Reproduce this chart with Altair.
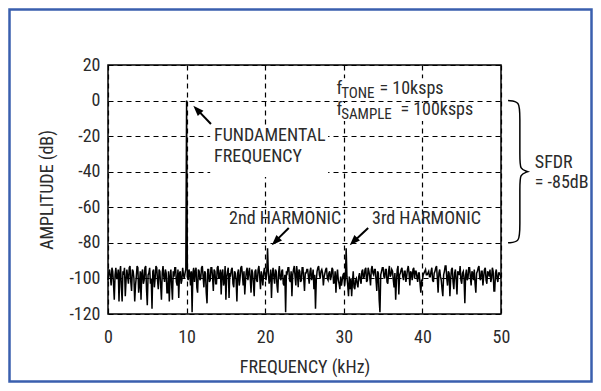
import altair as alt
import pandas as pd

# ---------------- data ----------------
freq_step_khz = 0.1
amplitude_db = [
    -101, -97, -95, -99, -104, -94, -96, -103, -112, -98,
    -94, -100, -100, -95, -113, -97, -93, -105, -113, -96,
    -98, -94, -110, -101, -95, -99, -103, -94, -93, -102,
    -107, -95, -96, -100, -113, -104, -99, -93, -94, -108,
    -104, -96, -112, -97, -95, -103, -101, -94, -93, -106,
    -115, -98, -97, -94, -103, -100, -117, -96, -95, -105,
    -100, -93, -94, -101, -106, -95, -96, -104, -112, -97,
    -93, -99, -102, -95, -97, -108, -108, -96, -113, -99,
    -95, -104, -112, -96, -99, -94, -94, -102, -104, -95,
    -111, -97, -96, -103, -101, -94, -98, -100, -97, -95,
    0, -99, -101, -95, -97, -104, -96, -119, -97, -94,
    -102, -96, -94, -105, -108, -95, -96, -101, -100, -94,
    -93, -99, -105, -96, -97, -108, -114, -95, -95, -102,
    -101, -94, -94, -99, -107, -95, -96, -103, -103, -94,
    -93, -100, -99, -95, -109, -97, -95, -104, -102, -93,
    -112, -99, -96, -94, -111, -97, -98, -95, -94, -103,
    -105, -96, -97, -101, -113, -97, -95, -104, -100, -94,
    -93, -98, -104, -96, -109, -101, -96, -94, -101, -97,
    -94, -100, -108, -95, -97, -103, -110, -96, -95, -101,
    -102, -95, -93, -99, -106, -96, -99, -104, -97, -94,
    -98, -101, -96, -83, -97, -103, -100, -95, -111, -98,
    -94, -99, -103, -95, -96, -104, -108, -97, -93, -100,
    -101, -96, -95, -103, -104, -98, -119, -96, -97, -94,
    -94, -101, -102, -96, -110, -98, -95, -93, -99, -104,
    -93, -97, -105, -95, -96, -102, -101, -94, -94, -100,
    -107, -97, -97, -95, -95, -99, -103, -96, -94, -101,
    -99, -95, -106, -98, -117, -101, -96, -94, -93, -98,
    -100, -96, -95, -97, -104, -99, -97, -95, -94, -100,
    -101, -97, -96, -101, -99, -94, -95, -103, -102, -96,
    -108, -99, -95, -101, -103, -106, -99, -104, -101, -98,
    -97, -104, -100, -83, -99, -104, -110, -99, -106, -100,
    -110, -102, -96, -105, -106, -101, -100, -103, -105, -99,
    -97, -101, -103, -96, -95, -100, -99, -95, -94, -102,
    -101, -94, -96, -99, -104, -95, -93, -97, -98, -95,
    -95, -101, -107, -96, -97, -112, -119, -98, -96, -94,
    -94, -99, -100, -95, -95, -102, -103, -96, -93, -99,
    -98, -95, -96, -101, -105, -97, -112, -101, -95, -93,
    -109, -98, -97, -95, -94, -99, -101, -96, -96, -102,
    -99, -95, -93, -97, -104, -96, -97, -101, -95, -94,
    -100, -96, -96, -99, -102, -97, -97, -103, -108, -101,
    -101, -98, -97, -96, -95, -98, -98, -97, -96, -99,
    -99, -96, -94, -101, -102, -97, -96, -94, -93, -100,
    -108, -97, -95, -99, -101, -106, -110, -98, -96, -93,
    -93, -100, -104, -96, -97, -110, -100, -95, -94, -102,
    -106, -97, -95, -101, -109, -96, -97, -98, -93, -101,
    -103, -97, -96, -100, -114, -98, -95, -101, -100, -94,
    -94, -99, -104, -96, -97, -101, -95, -103, -108, -97,
    -96, -94, -93, -100, -101, -96, -96, -104, -99, -95,
    -94, -101, -103, -96, -97, -99, -95, -102, -100, -94,
    -96, -107, -107, -97, -95, -100, -102, -97, -97, -98,
    -100,
]
freq_khz = [round(i * freq_step_khz, 3) for i in range(len(amplitude_db))]

x_ticks = [0, 10, 20, 30, 40, 50]
y_ticks = [-120, -100, -80, -60, -40, -20, 0, 20]

# annotation texts (data coordinates)
note_text = ["FUNDAMENTAL", "FREQUENCY", "2nd HARMONIC", "3rd HARMONIC",
             "f", "TONE", "= 10ksps", "f", "SAMPLE", "= 100ksps",
             "SFDR", "= -85dB"]
note_x = [13.5, 13.5, 15.4, 33.6, 29.07, 29.66, 34.55, 29.07, 29.66, 37.2, 54.3, 54.3]
note_y = [-22.9, -34.4, -69.4, -69.4, 3.9, 1.5, 3.9, -8.1, -10.6, -8.1, -38.1, -49.3]
note_size = [18, 18, 18, 18, 18, 15, 18, 18, 15, 18, 18, 18]

# white boxes behind text
box_x = [13.0, 29.0, 29.0]
box_x2 = [28.0, 43.2, 46.8]
box_y = [-14.0, 12.5, -1.4]
box_y2 = [-43.0, 0.9, -11.5]

# arrows
shaft_id = ["a", "a", "b", "b", "c", "c"]
shaft_x = [13.1, 11.5, 23.0, 21.5, 33.1, 31.5]
shaft_y = [-13.2, -5.8, -71.6, -78.2, -71.6, -78.2]
head_x = [11.32, 21.31, 31.23]
head_y = [-5.07, -79.2, -79.2]
head_angle = [316, 225, 225]

# brace
brace_x = [50.9, 52.4, 52.4, 52.4, 52.4, 53.4, 53.4, 53.4, 52.4, 52.4, 52.4, 52.4, 50.9]
brace_y = [0.0, -0.5, -8.0, -33.0, -38.5, -40.0, -40.0, -40.0, -41.5, -47.0, -72.0, -79.5, -80.0]

FONT = "Roboto Condensed, DejaVu Sans Condensed, Liberation Sans Narrow, Roboto, sans-serif"
TXT = "#2b2b2b"

# ---------------- chart ----------------
spec = pd.DataFrame({"freq": freq_khz, "amp": amplitude_db})

xs = alt.Scale(domain=[0, 50], nice=False)
ys = alt.Scale(domain=[-120, 20], nice=False)

x_axis = alt.Axis(values=x_ticks, title="FREQUENCY (kHz)", ticks=False, tickSize=0,
                  domain=False, grid=True, gridDash=[5, 4], gridColor="black",
                  gridWidth=1.2, gridOpacity=1, labelPadding=14, titlePadding=12,
                  labelOverlap=False, labelFlush=False)
y_axis = alt.Axis(values=y_ticks, title="AMPLITUDE (dB)", ticks=False, tickSize=0,
                  domain=False, grid=True, gridDash=[5, 4], gridColor="black",
                  gridWidth=1.2, gridOpacity=1, labelPadding=8, titlePadding=12,
                  labelOverlap=False, labelFlush=False,
                  labelExpr="datum.value + ''")


def X(field):
    return alt.X(field, scale=xs, axis=x_axis)


def Y(field):
    return alt.Y(field, scale=ys, axis=y_axis)


line = alt.Chart(spec).mark_line(color="black", strokeWidth=1.5).encode(
    x=X("freq:Q"), y=Y("amp:Q"))

boxes = alt.Chart(pd.DataFrame({"x": box_x, "x2": box_x2, "y": box_y, "y2": box_y2})).mark_rect(
    color="white").encode(x=X("x:Q"), x2="x2:Q", y=Y("y:Q"), y2="y2:Q")

notes = alt.Chart(pd.DataFrame({"t": note_text, "x": note_x, "y": note_y, "s": note_size})).mark_text(
    align="left", baseline="alphabetic", font=FONT, color=TXT, clip=False).encode(
    x=X("x:Q"), y=Y("y:Q"), text="t:N",
    size=alt.Size("s:Q", scale=None, legend=None))

shafts = alt.Chart(pd.DataFrame({"id": shaft_id, "x": shaft_x, "y": shaft_y})).mark_line(
    color="black", strokeWidth=2).encode(x=X("x:Q"), y=Y("y:Q"), detail="id:N")

heads = alt.Chart(pd.DataFrame({"x": head_x, "y": head_y, "a": head_angle})).mark_point(
    shape="M0,-1L0.75,1L-0.75,1Z", filled=True, color="black", opacity=1, size=110,
    strokeWidth=0).encode(x=X("x:Q"), y=Y("y:Q"), angle=alt.Angle("a:Q", scale=None))

brace = alt.Chart(pd.DataFrame({"o": list(range(len(brace_x))), "x": brace_x, "y": brace_y})).mark_line(
    color="black", strokeWidth=1.5, interpolate="basis", clip=False).encode(
    x=X("x:Q"), y=Y("y:Q"), order="o:Q")

frame = alt.Chart(alt.Data(values=[{}])).mark_rect(
    fill=None, fillOpacity=0, stroke="#3a5fae", strokeWidth=2.5, clip=False).encode(
    x=alt.value(-98.5), x2=alt.value(483.5), y=alt.value(-55.5), y2=alt.value(316.5))

chart = alt.layer(line, boxes, shafts, heads, brace, notes, frame).properties(
    width=393, height=249,
    padding={"left": 100, "top": 57, "right": 92, "bottom": 69},
    autosize=alt.AutoSizeParams(type="none"),
    background="white",
).configure_view(stroke="black", strokeWidth=1.5).configure_axis(
    labelFont=FONT, titleFont=FONT, labelFontSize=18, titleFontSize=18,
    labelColor=TXT, titleColor=TXT, titleFontWeight="normal",
)

chart.save("out.html", embed_options={"renderer": "svg", "actions": False})
